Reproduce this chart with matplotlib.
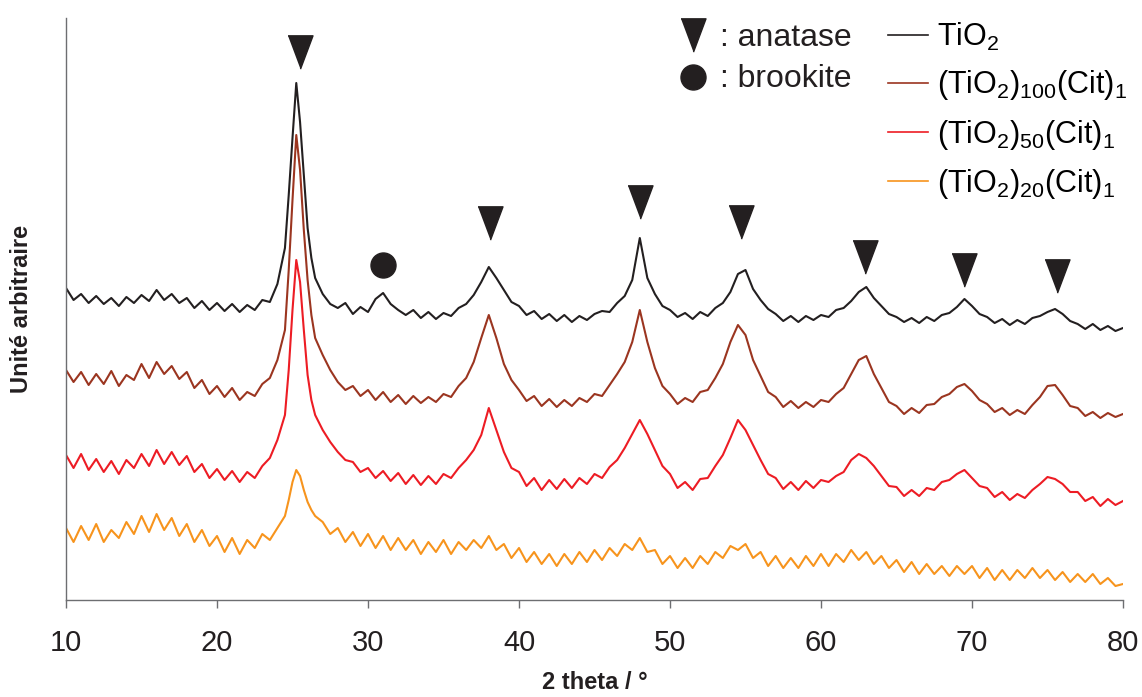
import numpy as np
import matplotlib
matplotlib.use("Agg")
import matplotlib.pyplot as plt
from matplotlib.lines import Line2D

plt.rcParams["font.family"] = ["Liberation Sans", "DejaVu Sans"]
plt.rcParams["mathtext.fontset"] = "custom"
plt.rcParams["mathtext.rm"] = "Liberation Sans"
plt.rcParams["mathtext.it"] = "Liberation Sans:italic"

# 2 theta grid: 0.5 deg steps, finer around the main anatase peak
two_theta = np.concatenate([
    np.arange(10.0, 24.01, 0.5),
    np.arange(24.5, 26.51, 0.25),
    np.arange(27.0, 80.01, 0.5),
])

# intensities (arbitrary units, offset traces as in the figure)
tio2 = [
    312, 300, 306, 297, 304, 296, 302, 294, 303, 297,
    305, 299, 310, 300, 306, 297, 302, 292, 299, 290,
    297, 289, 296, 288, 295, 290, 300, 298, 316,
    352, 405, 462, 517, 478, 425, 372, 342, 322,
    306, 296, 292, 297, 286, 293,
    288, 301, 307, 296, 290, 285, 290, 282, 288, 281,
    287, 284, 292, 296, 305, 318, 333, 322, 310, 298,
    294, 285, 289, 281, 286, 279, 285, 278, 284, 280,
    286, 289, 288, 297, 304, 320, 362, 322, 306, 294,
    290, 283, 287, 281, 288, 284, 292, 297, 308, 326,
    330, 311, 300, 291, 286, 279, 284, 278, 284, 280,
    285, 283, 290, 292, 299, 308, 313, 302, 294, 286,
    283, 278, 282, 277, 283, 279, 285, 287, 293, 301,
    294, 286, 283, 277, 281, 275, 280, 276, 282, 284,
    288, 291, 286, 279, 276, 271, 276, 270, 274, 269,
    272,
]
cit100 = [
    230, 218, 228, 215, 226, 216, 229, 214, 225, 220,
    236, 222, 238, 226, 234, 221, 228, 212, 220, 206,
    214, 203, 212, 200, 208, 204, 216, 222, 240,
    270, 330, 400, 465, 430, 370, 320, 285, 262,
    245, 230, 218, 210, 214, 204,
    210, 200, 208, 198, 205, 196, 204, 197, 203, 198,
    206, 203, 214, 222, 238, 262, 285, 262, 236, 220,
    210, 199, 204, 194, 201, 193, 200, 194, 202, 198,
    206, 204, 215, 226, 238, 258, 290, 258, 232, 214,
    206, 196, 202, 198, 208, 210, 222, 236, 258, 275,
    265, 240, 224, 208, 203, 193, 199, 192, 198, 193,
    200, 198, 206, 212, 226, 240, 244, 226, 212, 198,
    194, 186, 192, 187, 195, 196, 203, 206, 213, 216,
    209, 200, 196, 188, 192, 185, 190, 186, 195, 203,
    214, 215, 205, 194, 192, 184, 188, 182, 187, 183,
    186,
]
cit50 = [
    145, 132, 146, 130, 141, 128, 139, 126, 140, 132,
    146, 134, 150, 136, 148, 135, 144, 128, 136, 122,
    131, 120, 129, 118, 128, 122, 134, 142, 160,
    185, 230, 290, 340, 318, 270, 225, 200, 185,
    170, 158, 148, 140, 138, 128,
    132, 122, 129, 119, 127, 116, 125, 115, 124, 116,
    126, 122, 132, 140, 150, 165, 192, 170, 148, 132,
    128, 114, 122, 110, 120, 111, 121, 112, 122, 116,
    126, 122, 133, 140, 152, 166, 180, 166, 150, 134,
    126, 112, 118, 110, 121, 122, 134, 145, 162, 180,
    170, 155, 140, 126, 122, 111, 118, 110, 119, 112,
    120, 118, 124, 128, 140, 146, 142, 134, 124, 114,
    113, 104, 110, 104, 112, 110, 118, 120, 126, 130,
    122, 114, 112, 103, 108, 100, 106, 102, 110, 116,
    123, 121, 116, 108, 108, 99, 103, 94, 101, 95,
    99,
]
cit20 = [
    72, 58, 74, 60, 76, 58, 70, 62, 78, 66,
    84, 68, 86, 70, 82, 64, 76, 58, 70, 54,
    64, 48, 62, 46, 60, 52, 66, 60, 72,
    84, 100, 118, 130, 124, 110, 98, 90, 84,
    78, 66, 72, 58, 68, 54,
    66, 52, 64, 50, 62, 50, 60, 46, 58, 48,
    60, 46, 58, 50, 60, 52, 64, 50, 56, 42,
    52, 38, 48, 36, 46, 34, 46, 36, 48, 38,
    50, 40, 52, 44, 56, 50, 62, 48, 50, 36,
    44, 32, 42, 32, 44, 36, 48, 42, 54, 50,
    56, 42, 48, 34, 44, 32, 42, 32, 44, 34,
    46, 34, 46, 38, 50, 40, 48, 36, 44, 32,
    40, 28, 38, 26, 36, 26, 34, 24, 34, 26,
    34, 22, 32, 20, 30, 20, 30, 22, 32, 22,
    30, 20, 28, 18, 26, 18, 26, 16, 22, 14,
    16,
]

series_labels = [
    r"TiO$_2$",
    r"(TiO$_2$)$_{100}$(Cit)$_1$",
    r"(TiO$_2$)$_{50}$(Cit)$_1$",
    r"(TiO$_2$)$_{20}$(Cit)$_1$",
]
series_colors = ["#231f20", "#9b3520", "#ed1c24", "#f7941d"]

# phase markers: position and height
anatase_pos = [25.5, 38.1, 48.0, 54.7, 62.9, 69.5, 75.6]
anatase_h = [548, 377, 398, 378, 343, 330, 324]
brookite_pos = [31.0]
brookite_h = [335]

tri = [(-12, 16), (12, 16), (0, -16)]

fig = plt.figure(figsize=(11.42, 6.97), dpi=100)
ax = fig.add_axes([66 / 1142, 97 / 697, 1057 / 1142, 582 / 697])

for ys, lab, col in zip([tio2, cit100, cit50, cit20], series_labels, series_colors):
    ax.plot(two_theta, ys, color=col, lw=1.5, label=lab)

ax.plot(anatase_pos, anatase_h, ls="none", marker=tri, ms=24, color="#231f20")
ax.plot(brookite_pos, brookite_h, ls="none", marker="o", ms=18, color="#231f20")

# phase key
ax.plot([51.5], [565], ls="none", marker=tri, ms=24, color="#231f20")
ax.plot([51.5], [523], ls="none", marker="o", ms=18, color="#231f20")
ax.text(53.3, 562, ": anatase", fontsize=23, va="center", color="#231f20")
ax.text(53.3, 521, ": brookite", fontsize=23, va="center", color="#231f20")

handles = [Line2D([], [], color=c, lw=1.2) for c in series_colors]
ax.legend(handles, series_labels, loc="upper left",
          bbox_to_anchor=(888 / 1142, 1 - 21 / 697), bbox_transform=fig.transFigure,
          frameon=False, fontsize=22, borderpad=0, borderaxespad=0,
          handlelength=1.3, handletextpad=0.3, labelspacing=0.5)

ax.set_xlim(10, 80)
ax.set_ylim(0, 582)
ax.set_xticks([10, 20, 30, 40, 50, 60, 70, 80])
ax.set_yticks([])
for s in ["top", "right"]:
    ax.spines[s].set_visible(False)
for s in ["left", "bottom"]:
    ax.spines[s].set_color("#6d6e71")
    ax.spines[s].set_linewidth(1.0)
ax.tick_params(axis="x", direction="out", length=6, width=1.0, color="#6d6e71",
               labelsize=21, labelcolor="#231f20", pad=15)

ax.set_xlabel("2 theta / °", fontsize=17, fontweight="bold", color="#231f20", labelpad=10)
ax.set_ylabel("Unité arbitraire", fontsize=17, fontweight="bold", color="#231f20", labelpad=24)

fig.savefig("out.png", dpi=100)
plt.close(fig)
